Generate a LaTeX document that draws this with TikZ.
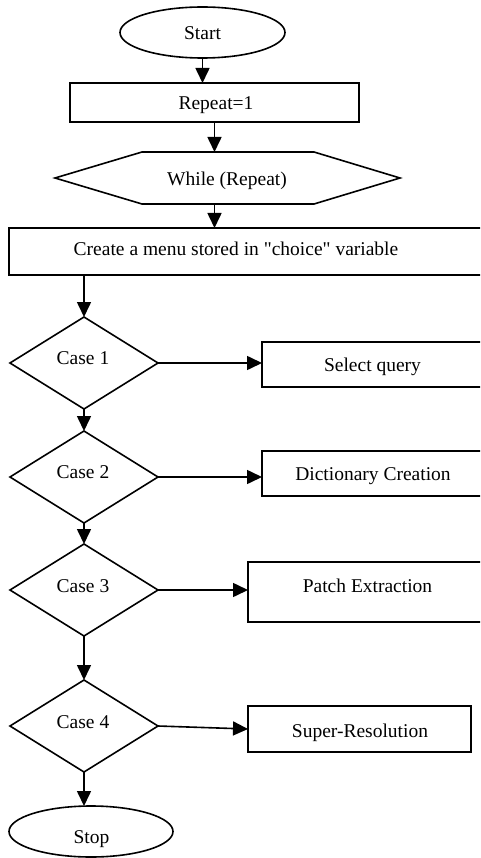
\documentclass[tikz,border=0pt]{standalone}
\usepackage{fontspec}
\setmainfont{Liberation Serif}[Ligatures=TeXOff]
\usetikzlibrary{shapes.geometric,arrows.meta}
\begin{document}
\begin{tikzpicture}[x=1pt,y=-1pt,
  every node/.style={inner sep=0pt, outer sep=0pt},
  shp/.style={draw, line width=1.6pt},
  term/.style={shp, ellipse, minimum width=165pt, minimum height=51pt},
  proc/.style={shp, rectangle},
  dec/.style={shp, diamond, minimum width=148pt, minimum height=92pt},
  txt/.style={anchor=base, font=\fontsize{19.5}{23}\selectfont},
  arr/.style={line width=1.6pt, -{Triangle[length=15pt,width=14pt]}}
]
\useasboundingbox (0,0) rectangle (480,858);
\fill[white] (0,0) rectangle (480,858);
\clip (0,0) rectangle (480,858);

% shapes
\node[term] (start) at (202.5,32.5) {};
\node[proc, minimum width=289pt, minimum height=39pt] (repeat) at (214.5,102.5) {};
\node (while) at (227.5,178) [minimum width=345pt, minimum height=52pt] {};
\draw[line width=1.6pt] (55,178) -- (142,152) -- (314,152) -- (400,178) -- (314,204) -- (142,204) -- cycle;
\node[proc, minimum width=481pt, minimum height=47pt] (create) at (249.5,251.5) {};
\node[dec] (case1) at (84,363) {};
\node[dec] (case2) at (84,477) {};
\node[dec] (case3) at (84,590) {};
\node[dec] (case4) at (84,726) {};
\node[proc, minimum width=228pt, minimum height=45pt] (select) at (376,364.5) {};
\node[proc, minimum width=228pt, minimum height=45pt] (dict) at (376,473.5) {};
\node[proc, minimum width=242pt, minimum height=60pt] (patch) at (369,592) {};
\node[proc, minimum width=223pt, minimum height=46pt] (super) at (359.5,729) {};
\node[term, minimum width=164pt] (stop) at (91,831.5) {};

% texts
\node[txt] (tstart) at (202.5,40) {Start};
\begin{scope}
\clip (70,83) rectangle (359,113.5);
\node[txt] (trepeat) at (216,110) {Repeat=1};
\end{scope}
\node[txt] (twhile) at (227,186) {While (Repeat)};
\node[txt] (tcreate) at (236,255) {Create a menu stored in "choice" variable};
\node[txt] (tcase1) at (83,364) {Case 1};
\node[txt] (tcase2) at (83,478) {Case 2};
\node[txt] (tcase3) at (83,592) {Case 3};
\node[txt] (tcase4) at (83,728) {Case 4};
\node[txt] (tselect) at (372.5,371) {Select query};
\node[txt] (tdict) at (373,480) {Dictionary Creation};
\node[txt] (tpatch) at (367.5,592) {Patch Extraction};
\node[txt] (tsuper) at (360,737) {Super-Resolution};
\node[txt] (tstop) at (91.5,843) {Stop};

% connectors
\draw[arr] (start.south) -- (start.south |- repeat.north);
\draw[arr] (repeat.south) -- (repeat.south |- while.north);
\draw[arr] (repeat.south |- while.south) -- (repeat.south |- create.north);
\draw[arr] (case1.north |- create.south) -- (case1.north);
\draw[arr] (case1.east) -- (case1.east -| select.west);
\draw[arr] (case1.south) -- (case2.north);
\draw[arr] (case2.east) -- (case2.east -| dict.west);
\draw[arr] (case2.south) -- (case3.north);
\draw[arr] (case3.east) -- (case3.east -| patch.west);
\draw[arr] (case3.south) -- (case4.north);
\draw[arr] (case4.east) -- (super.west);
\draw[arr] (case4.south) -- (case4.south |- stop.north);
\end{tikzpicture}
\end{document}
